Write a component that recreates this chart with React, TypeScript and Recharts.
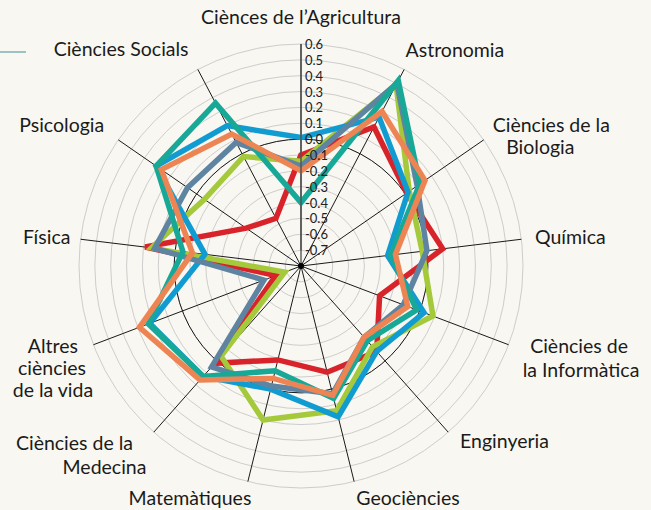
import { PolarAngleAxis, PolarGrid, PolarRadiusAxis, Radar, RadarChart } from "recharts";

const categories = [
  "Ciènces de l’Agricultura",
  "Astronomia",
  "Ciències de la Biologia",
  "Química",
  "Ciències de la Informàtica",
  "Enginyeria",
  "Geociències",
  "Matemàtiques",
  "Ciències de la Medecina",
  "Altres ciències de la vida",
  "Física",
  "Psicologia",
  "Ciències Socials",
];

const redValues = [-0.1, 0.19, 0.01, 0.1, -0.27, -0.08, -0.11, -0.19, 0.02, -0.63, 0.19, -0.38, -0.46];
const greenValues = [-0.14, 0.49, 0.03, -0.03, 0.09, -0.12, 0.14, 0.2, -0.04, -0.69, 0.15, -0.06, -0.02];
const blueValues = [0.01, 0.26, 0.02, -0.25, 0.03, -0.08, 0.18, 0.0, 0.13, 0.22, -0.19, 0.31, 0.2];
const slateValues = [-0.17, 0.5, 0.09, 0.0, -0.11, -0.2, 0.03, -0.02, 0.05, -0.55, 0.13, 0.07, 0.08];
const tealValues = [-0.4, 0.52, 0.11, -0.23, -0.02, -0.17, 0.06, -0.12, 0.13, 0.23, -0.05, 0.31, 0.36];
const orangeValues = [-0.2, 0.3, 0.15, -0.2, -0.08, -0.2, 0.04, -0.07, 0.16, 0.29, -0.11, 0.27, 0.14];

const radiusTicks = [-0.7, -0.6, -0.5, -0.4, -0.3, -0.2, -0.1, 0.0, 0.1, 0.2, 0.3, 0.4, 0.5, 0.6];

const R_MIN = -0.8;
const R_MAX = 0.6;
const OUTER = 222;
const CX = 301;
const CY = 266;

const rows = categories.map((name, i) => ({
  name,
  red: redValues[i],
  green: greenValues[i],
  blue: blueValues[i],
  slate: slateValues[i],
  teal: tealValues[i],
  orange: orangeValues[i],
}));

const series = [
  { key: "red", color: "#d9232b" },
  { key: "green", color: "#a4c93a" },
  { key: "blue", color: "#119cd1" },
  { key: "slate", color: "#5f84a1" },
  { key: "teal", color: "#17a898" },
  { key: "orange", color: "#ec8553" },
];

// label lines, offset from the tick point recharts hands us
const labelLayout: Record<string, { text: string; dx: number; dy: number }[]> = {
  "Ciènces de l’Agricultura": [{ text: "Ciènces de l’Agricultura", dx: 0, dy: -12 }],
  Astronomia: [{ text: "Astronomia", dx: 47, dy: -5 }],
  "Ciències de la Biologia": [
    { text: "Ciències de la", dx: 61, dy: -3 },
    { text: "Biologia", dx: 50, dy: 19 },
  ],
  Química: [{ text: "Química", dx: 41, dy: 6 }],
  "Ciències de la Informàtica": [
    { text: "Ciències de", dx: 63, dy: 5 },
    { text: "la Informàtica", dx: 65, dy: 29 },
  ],
  Enginyeria: [{ text: "Enginyeria", dx: 51, dy: 10 }],
  Geociències: [{ text: "Geociències", dx: 52, dy: 16 }],
  Matemàtiques: [{ text: "Matemàtiques", dx: -56, dy: 16 }],
  "Ciències de la Medecina": [
    { text: "Ciències de la", dx: -74, dy: 12 },
    { text: "Medecina", dx: -44, dy: 36 },
  ],
  "Altres ciències de la vida": [
    { text: "Altres", dx: -33, dy: 5 },
    { text: "ciències", dx: -34, dy: 27 },
    { text: "de la vida", dx: -33, dy: 49 },
  ],
  Física: [{ text: "Física", dx: -26, dy: 6 }],
  Psicologia: [{ text: "Psicologia", dx: -50, dy: -3 }],
  "Ciències Socials": [{ text: "Ciències Socials", dx: -73, dy: -6 }],
};

const FONT = "Lato, 'Open Sans', sans-serif";

const AngleTick = (props: any) => {
  const { x, y, payload } = props;
  const lines = labelLayout[payload.value] || [];
  return (
    <g>
      {lines.map((l, k) => (
        <text
          key={k}
          x={x + l.dx}
          y={y + l.dy}
          textAnchor="middle"
          fontSize={19.5}
          fontFamily={FONT}
          fill="#1b1b1b"
        >
          {l.text}
        </text>
      ))}
    </g>
  );
};

const RadiusTick = (props: any) => {
  const { x, y, payload } = props;
  return (
    <text
      x={x + 4}
      y={y}
      dominantBaseline="central"
      fontSize={13}
      fontFamily={FONT}
      fill="#222"
    >
      {Number(payload.value).toFixed(1)}
    </text>
  );
};

export default function App() {
  const zeroRing = ((0 - R_MIN) / (R_MAX - R_MIN)) * OUTER;

  return (
    <div
      style={{
        position: "absolute",
        left: 0,
        top: 0,
        width: 651,
        height: 510,
        background: "#f9f7f1",
        overflow: "hidden",
      }}
    >
      <div
        style={{
          position: "absolute",
          left: 0,
          top: 51,
          width: 26,
          height: 1.5,
          background: "#9cc3c5",
        }}
      />
      <RadarChart
        width={651}
        height={510}
        cx={CX}
        cy={CY}
        outerRadius={OUTER}
        data={rows}
        margin={{ top: 0, right: 0, bottom: 0, left: 0 }}
      >
        <PolarGrid gridType="circle" radialLines={false} stroke="#cdcdcd" strokeWidth={1} />
        <PolarGrid
          gridType="circle"
          polarRadius={[zeroRing]}
          stroke="#1a1a1a"
          strokeWidth={1}
        />
        <PolarAngleAxis dataKey="name" axisLine={false} tickLine={false} tick={<AngleTick />} />
        <PolarRadiusAxis
          angle={90}
          type="number"
          domain={[R_MIN, R_MAX]}
          allowDataOverflow
          allowDecimals
          tickCount={15}
          ticks={radiusTicks as any}
          axisLine={{ stroke: "#555", strokeWidth: 1.5 }}
          tickLine={false}
          tick={<RadiusTick />}
        />
        {series.map((s) => (
          <Radar
            key={s.key}
            dataKey={s.key}
            stroke={s.color}
            strokeWidth={5.5}
            fill="none"
            fillOpacity={0}
            dot={false}
            isAnimationActive={false}
          />
        ))}
      </RadarChart>
      <div
        style={{
          position: "absolute",
          left: CX - 3,
          top: CY - 3,
          width: 6,
          height: 6,
          borderRadius: 3,
          background: "#000",
        }}
      />
    </div>
  );
}
